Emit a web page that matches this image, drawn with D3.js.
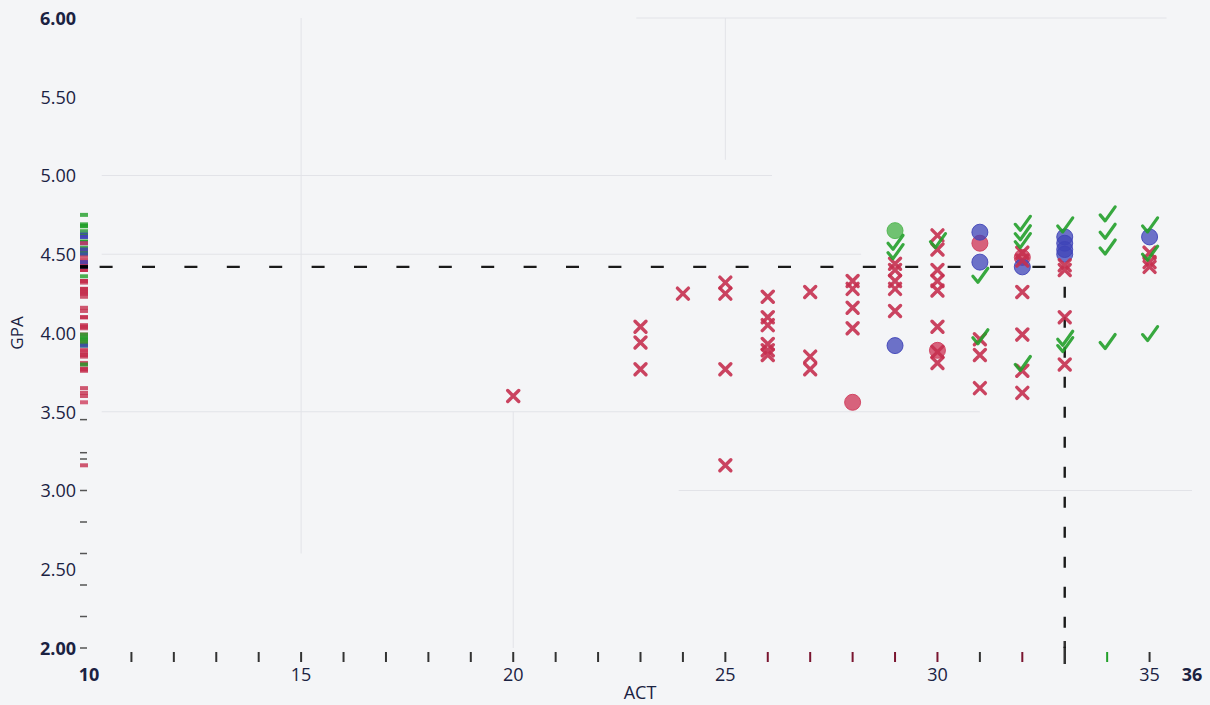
<!DOCTYPE html>
<html><head><meta charset="utf-8">
<script src="https://cdn.jsdelivr.net/npm/d3@7"></script>
<style>
html,body{margin:0;padding:0;background:#f4f5f7;}
svg{display:block;}
text{font-family:"Open Sans","Noto Sans",sans-serif;fill:#1b2242;}
</style></head>
<body>
<svg id="chart" width="1210" height="705"></svg>
<script>
// ---- data ----
const denied = [
  [20,3.60],
  [23,4.04],[23,3.94],[23,3.77],
  [24,4.25],
  [25,4.32],[25,4.25],[25,3.77],[25,3.16],
  [26,4.23],[26,4.10],[26,4.05],[26,3.93],[26,3.89],[26,3.86],
  [27,4.26],[27,3.85],[27,3.77],
  [28,4.33],[28,4.28],[28,4.16],[28,4.03],
  [29,4.44],[29,4.40],[29,4.33],[29,4.28],[29,4.14],
  [30,4.62],[30,4.53],[30,4.40],[30,4.33],[30,4.27],[30,4.04],[30,3.88],[30,3.81],
  [31,3.96],[31,3.86],[31,3.65],
  [32,4.51],[32,4.46],[32,4.26],[32,3.99],[32,3.76],[32,3.62],
  [33,4.43],[33,4.40],[33,4.10],[33,3.80],
  [35,4.51],[35,4.45],[35,4.42]
];
const accepted = [
  [29,4.57],[29,4.51],
  [30,4.58],
  [31,4.36],[31,3.97],
  [32,4.69],[32,4.63],[32,4.58],[32,3.80],
  [33,4.68],[33,3.96],[33,3.92],
  [34,4.75],[34,4.64],[34,4.54],[34,3.94],
  [35,4.68],[35,4.50],[35,3.99]
];
const waitlisted = [
  [29,3.92],
  [31,4.64],[31,4.45],
  [32,4.42],
  [33,4.61],[33,4.57],[33,4.53],[33,4.50],
  [35,4.61]
];
const waitAccepted = [[29,4.65]];
const waitDenied = [[28,3.56],[30,3.89],[31,4.57],[32,4.48]];

const meanACT = 33, meanGPA = 4.42;

const yTickLabels = [6.00,5.50,5.00,4.50,4.00,3.50,3.00,2.50,2.00];
const xTickLabels = [10,15,20,25,30,35,36];
const xMinorTicks = d3.range(11,36);
const yMinorTicks = [2.0,2.2,2.4,2.6,2.8,3.0,3.2,3.24,3.45];
const rugHighlight = {26:"denied",27:"denied",28:"denied",29:"denied",30:"denied",32:"denied",34:"accepted"};

// faint grid segments: [axis, value, from, to]
const gridSegs = [
  ["h",5.0,10.3,26.1],["h",6.0,22.9,35.4],["h",4.5,10.3,28.2],
  ["h",3.5,10.3,31.0],["h",3.0,23.9,36],
  ["v",15,6.0,2.6],["v",25,6.0,5.1],["v",20,3.5,2.0]
];

// ---- drawing ----
const svg = d3.select("#chart");
const x = d3.scaleLinear().domain([10,36]).range([89,1192]);
const y = d3.scaleLinear().domain([2,6]).range([648,18]);

const colors = {denied:"#c5304f", accepted:"#22a02a", waitlisted:"#3f44b8", waitAccepted:"#4fb54f", waitDenied:"#cf3d5c"};

svg.append("rect").attr("width",1210).attr("height",705).attr("fill","#f4f5f7");

const g = svg.append("g");
gridSegs.forEach(s=>{
  if(s[0]==="h") g.append("line").attr("x1",x(s[2])).attr("x2",x(s[3])).attr("y1",y(s[1])).attr("y2",y(s[1]));
  else g.append("line").attr("x1",x(s[1])).attr("x2",x(s[1])).attr("y1",y(s[2])).attr("y2",y(s[3]));
});
g.selectAll("line").attr("stroke","#e2e3e8").attr("stroke-width",1);

// y labels
svg.append("g").selectAll("text").data(yTickLabels).join("text")
  .attr("x",76).attr("y",d=>y(d)+2).attr("text-anchor","end").attr("dominant-baseline","middle")
  .attr("font-size",18).attr("font-weight",d=>(d===6||d===2)?700:400)
  .text(d=>d.toFixed(2));
// x labels
svg.append("g").selectAll("text").data(xTickLabels).join("text")
  .attr("x",d=>x(d)).attr("y",676).attr("text-anchor","middle").attr("dominant-baseline","middle")
  .attr("font-size",18).attr("font-weight",d=>(d===10||d===36)?700:400)
  .text(d=>d);

svg.append("text").attr("x",640).attr("y",694).attr("text-anchor","middle").attr("dominant-baseline","middle")
  .attr("font-size",18).text("ACT");
svg.append("text").attr("transform",`translate(18,${y(4.0)}) rotate(-90)`).attr("text-anchor","middle")
  .attr("dominant-baseline","middle").attr("font-size",17).text("GPA");

// y minor ticks
svg.append("g").selectAll("line").data(yMinorTicks).join("line")
  .attr("x1",80).attr("x2",87).attr("y1",d=>y(d)).attr("y2",d=>y(d))
  .attr("stroke","#555").attr("stroke-width",1.5);

// x minor ticks / rug
svg.append("g").selectAll("line").data(xMinorTicks).join("line")
  .attr("x1",d=>x(d)).attr("x2",d=>x(d))
  .attr("y1",d=>d===meanACT?641:652).attr("y2",d=>d===meanACT?664:662)
  .attr("stroke",d=>rugHighlight[d]==="denied"?"#7a1530":rugHighlight[d]==="accepted"?"#22a02a":"#333")
  .attr("stroke-width",d=>d===meanACT?2.5:2);

// left rug
const all = [].concat(
  denied.map(d=>({a:d[0],g:d[1],t:"denied"})),
  accepted.map(d=>({a:d[0],g:d[1],t:"accepted"})),
  waitlisted.map(d=>({a:d[0],g:d[1],t:"waitlisted"})),
  waitAccepted.map(d=>({a:d[0],g:d[1],t:"waitAccepted"})),
  waitDenied.map(d=>({a:d[0],g:d[1],t:"waitDenied"}))
);
svg.append("g").selectAll("line").data(all).join("line")
  .attr("x1",80).attr("x2",88).attr("y1",d=>y(d.g)).attr("y2",d=>y(d.g))
  .attr("stroke",d=>colors[d.t]).attr("stroke-width",4).attr("opacity",0.8);
svg.append("line").attr("x1",80).attr("x2",88).attr("y1",y(meanGPA)).attr("y2",y(meanGPA))
  .attr("stroke","#000").attr("stroke-width",3.5);

// mean dashed lines
svg.append("line").attr("x1",x(10.25)).attr("x2",x(meanACT)).attr("y1",y(meanGPA)).attr("y2",y(meanGPA))
  .attr("stroke","#1a1a1a").attr("stroke-width",2.4).attr("stroke-dasharray","13,29.4");
svg.append("line").attr("x1",x(meanACT)).attr("x2",x(meanACT)).attr("y1",y(meanGPA)+20).attr("y2",y(2))
  .attr("stroke","#1a1a1a").attr("stroke-width",2.4).attr("stroke-dasharray","11,19");

// markers
const pts = svg.append("g");
function circles(data,fill,op){
  pts.append("g").selectAll("circle").data(data).join("circle")
    .attr("cx",d=>x(d[0])).attr("cy",d=>y(d[1])).attr("r",8)
    .attr("fill",fill).attr("fill-opacity",op).attr("stroke",fill).attr("stroke-opacity",0.9).attr("stroke-width",1);
}
circles(waitDenied,colors.waitDenied,0.8);
circles(waitAccepted,colors.waitAccepted,0.8);
circles(waitlisted,colors.waitlisted,0.75);

pts.append("g").selectAll("path").data(denied).join("path")
  .attr("transform",d=>`translate(${x(d[0])},${y(d[1])})`)
  .attr("d","M-5.5,-5.5L5.5,5.5M5.5,-5.5L-5.5,5.5")
  .attr("stroke",colors.denied).attr("stroke-width",3.4).attr("stroke-linecap","round")
  .attr("fill","none").attr("opacity",0.9);

pts.append("g").selectAll("path").data(accepted).join("path")
  .attr("transform",d=>`translate(${x(d[0])},${y(d[1])})`)
  .attr("d","M-7,0L-2,6L8,-8")
  .attr("stroke",colors.accepted).attr("stroke-width",3.2).attr("stroke-linecap","round").attr("stroke-linejoin","round")
  .attr("fill","none").attr("opacity",0.9);
</script>
</body></html>
